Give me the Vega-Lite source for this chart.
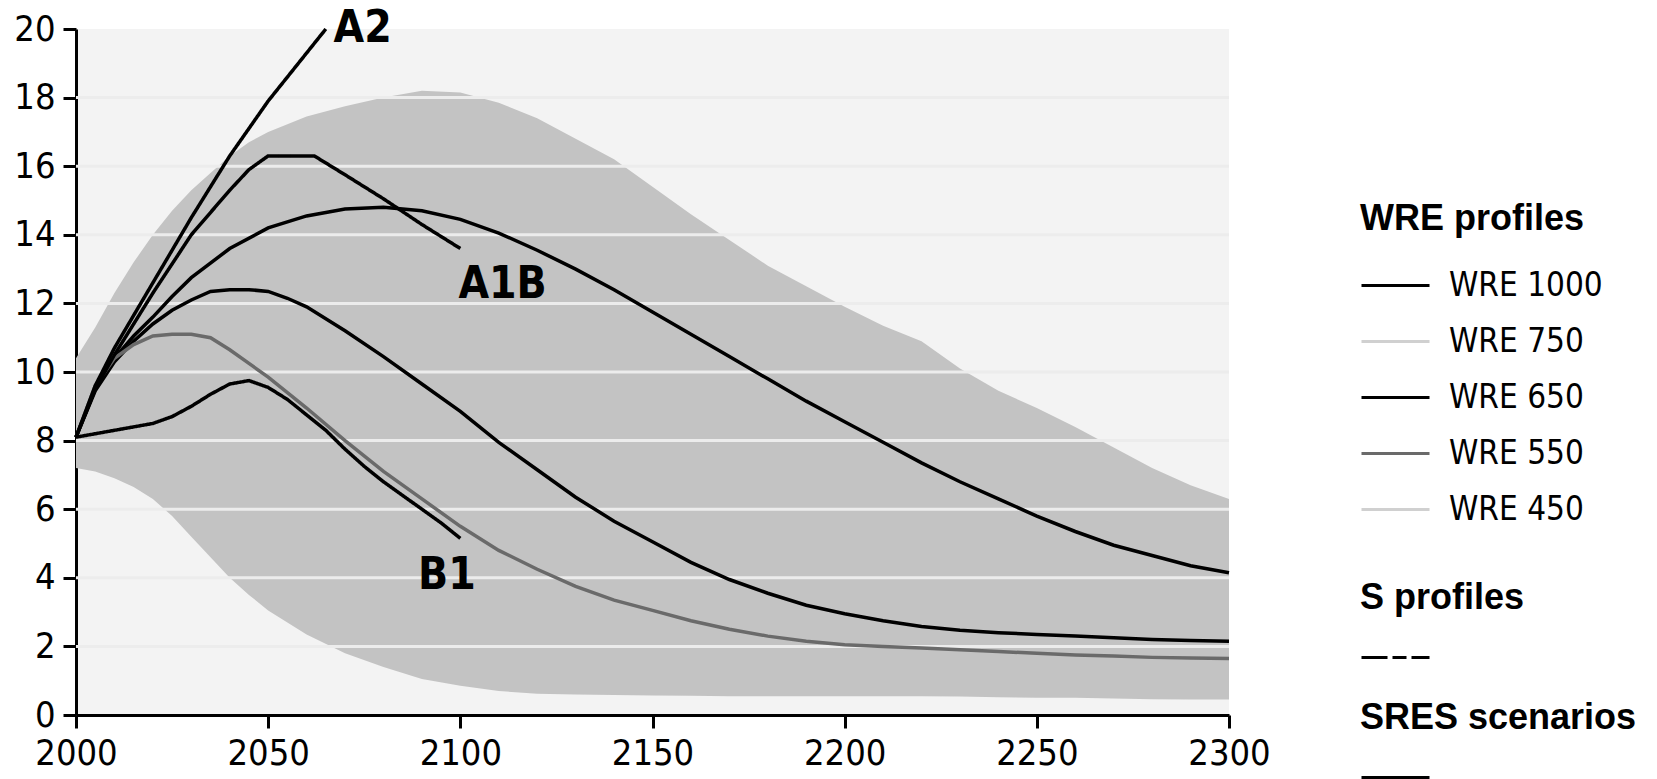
{
  "$schema": "https://vega.github.io/schema/vega-lite/v6.json",
  "width": 1153,
  "height": 686,
  "autosize": {"type": "none"},
  "padding": {"left": 76, "top": 29, "right": 428, "bottom": 64},
  "background": "white",
  "config": {
    "view": {"fill": "#f3f3f3", "stroke": null},
    "font": "DejaVu Sans Condensed, sans-serif",
    "axis": {
      "domainColor": "black", "domainWidth": 3, "tickColor": "black", "tickWidth": 3, "tickSize": 13,
      "labelColor": "black", "labelFontSize": 36, "labelFont": "DejaVu Sans Condensed, sans-serif",
      "grid": false, "labelPadding": 8, "labelFlush": false, "labelOverlap": false
    },
    "legend": {
      "labelFont": "DejaVu Sans Condensed, sans-serif",
      "labelFontSize": 33, "labelColor": "black",
      "titleFont": "Liberation Sans, Arial, sans-serif", "titleFontSize": 36, "titleFontWeight": "bold", "titleColor": "black",
      "titleLimit": 400, "labelLimit": 400, "padding": 0
    }
  },
  "datasets": {
    "band": [
      {"year": 2000, "lo": 7.2, "hi": 10.4}, {"year": 2005, "lo": 7.1, "hi": 11.3}, {"year": 2010, "lo": 6.9, "hi": 12.3},
      {"year": 2015, "lo": 6.65, "hi": 13.2}, {"year": 2020, "lo": 6.3, "hi": 14.0}, {"year": 2025, "lo": 5.8, "hi": 14.7},
      {"year": 2030, "lo": 5.2, "hi": 15.3}, {"year": 2035, "lo": 4.6, "hi": 15.8}, {"year": 2040, "lo": 4.0, "hi": 16.3},
      {"year": 2045, "lo": 3.5, "hi": 16.7}, {"year": 2050, "lo": 3.05, "hi": 17.0}, {"year": 2060, "lo": 2.35, "hi": 17.45},
      {"year": 2070, "lo": 1.8, "hi": 17.75}, {"year": 2080, "lo": 1.4, "hi": 18.0}, {"year": 2090, "lo": 1.05, "hi": 18.2},
      {"year": 2100, "lo": 0.85, "hi": 18.15}, {"year": 2110, "lo": 0.7, "hi": 17.85}, {"year": 2120, "lo": 0.62, "hi": 17.4},
      {"year": 2130, "lo": 0.6, "hi": 16.8}, {"year": 2140, "lo": 0.58, "hi": 16.2}, {"year": 2150, "lo": 0.57, "hi": 15.4},
      {"year": 2160, "lo": 0.56, "hi": 14.6}, {"year": 2170, "lo": 0.55, "hi": 13.85}, {"year": 2180, "lo": 0.55, "hi": 13.1},
      {"year": 2190, "lo": 0.55, "hi": 12.5}, {"year": 2200, "lo": 0.55, "hi": 11.9}, {"year": 2210, "lo": 0.55, "hi": 11.35},
      {"year": 2220, "lo": 0.55, "hi": 10.9}, {"year": 2230, "lo": 0.54, "hi": 10.1}, {"year": 2240, "lo": 0.52, "hi": 9.45},
      {"year": 2250, "lo": 0.5, "hi": 8.95}, {"year": 2260, "lo": 0.5, "hi": 8.4}, {"year": 2270, "lo": 0.48, "hi": 7.8},
      {"year": 2280, "lo": 0.46, "hi": 7.2}, {"year": 2290, "lo": 0.45, "hi": 6.7}, {"year": 2300, "lo": 0.45, "hi": 6.3}
    ],
    "grid": [{"g": 2}, {"g": 4}, {"g": 6}, {"g": 8}, {"g": 10}, {"g": 12}, {"g": 14}, {"g": 16}, {"g": 18}],
    "wre": [
      {"profile": "WRE 1000", "year": 2000, "value": 8.1}, {"profile": "WRE 1000", "year": 2005, "value": 9.5},
      {"profile": "WRE 1000", "year": 2010, "value": 10.4}, {"profile": "WRE 1000", "year": 2015, "value": 11.05},
      {"profile": "WRE 1000", "year": 2020, "value": 11.6}, {"profile": "WRE 1000", "year": 2025, "value": 12.2},
      {"profile": "WRE 1000", "year": 2030, "value": 12.75}, {"profile": "WRE 1000", "year": 2040, "value": 13.6},
      {"profile": "WRE 1000", "year": 2050, "value": 14.2}, {"profile": "WRE 1000", "year": 2060, "value": 14.55},
      {"profile": "WRE 1000", "year": 2070, "value": 14.75}, {"profile": "WRE 1000", "year": 2080, "value": 14.8},
      {"profile": "WRE 1000", "year": 2090, "value": 14.7}, {"profile": "WRE 1000", "year": 2100, "value": 14.45},
      {"profile": "WRE 1000", "year": 2110, "value": 14.05}, {"profile": "WRE 1000", "year": 2120, "value": 13.55},
      {"profile": "WRE 1000", "year": 2130, "value": 13.0}, {"profile": "WRE 1000", "year": 2140, "value": 12.4},
      {"profile": "WRE 1000", "year": 2150, "value": 11.75}, {"profile": "WRE 1000", "year": 2160, "value": 11.1},
      {"profile": "WRE 1000", "year": 2170, "value": 10.45}, {"profile": "WRE 1000", "year": 2180, "value": 9.8},
      {"profile": "WRE 1000", "year": 2190, "value": 9.15}, {"profile": "WRE 1000", "year": 2200, "value": 8.55},
      {"profile": "WRE 1000", "year": 2210, "value": 7.95}, {"profile": "WRE 1000", "year": 2220, "value": 7.35},
      {"profile": "WRE 1000", "year": 2230, "value": 6.8}, {"profile": "WRE 1000", "year": 2240, "value": 6.3},
      {"profile": "WRE 1000", "year": 2250, "value": 5.8}, {"profile": "WRE 1000", "year": 2260, "value": 5.35},
      {"profile": "WRE 1000", "year": 2270, "value": 4.95}, {"profile": "WRE 1000", "year": 2280, "value": 4.65},
      {"profile": "WRE 1000", "year": 2290, "value": 4.35}, {"profile": "WRE 1000", "year": 2300, "value": 4.15},

      {"profile": "WRE 650", "year": 2000, "value": 8.1}, {"profile": "WRE 650", "year": 2005, "value": 9.45},
      {"profile": "WRE 650", "year": 2010, "value": 10.3}, {"profile": "WRE 650", "year": 2015, "value": 10.9},
      {"profile": "WRE 650", "year": 2020, "value": 11.4}, {"profile": "WRE 650", "year": 2025, "value": 11.8},
      {"profile": "WRE 650", "year": 2030, "value": 12.1}, {"profile": "WRE 650", "year": 2035, "value": 12.35},
      {"profile": "WRE 650", "year": 2040, "value": 12.4}, {"profile": "WRE 650", "year": 2045, "value": 12.4},
      {"profile": "WRE 650", "year": 2050, "value": 12.35}, {"profile": "WRE 650", "year": 2055, "value": 12.15},
      {"profile": "WRE 650", "year": 2060, "value": 11.9}, {"profile": "WRE 650", "year": 2070, "value": 11.2},
      {"profile": "WRE 650", "year": 2080, "value": 10.45}, {"profile": "WRE 650", "year": 2090, "value": 9.65},
      {"profile": "WRE 650", "year": 2100, "value": 8.85}, {"profile": "WRE 650", "year": 2110, "value": 7.95},
      {"profile": "WRE 650", "year": 2120, "value": 7.15}, {"profile": "WRE 650", "year": 2130, "value": 6.35},
      {"profile": "WRE 650", "year": 2140, "value": 5.65}, {"profile": "WRE 650", "year": 2150, "value": 5.05},
      {"profile": "WRE 650", "year": 2160, "value": 4.45}, {"profile": "WRE 650", "year": 2170, "value": 3.95},
      {"profile": "WRE 650", "year": 2180, "value": 3.55}, {"profile": "WRE 650", "year": 2190, "value": 3.2},
      {"profile": "WRE 650", "year": 2200, "value": 2.95}, {"profile": "WRE 650", "year": 2210, "value": 2.75},
      {"profile": "WRE 650", "year": 2220, "value": 2.58}, {"profile": "WRE 650", "year": 2230, "value": 2.47},
      {"profile": "WRE 650", "year": 2240, "value": 2.4}, {"profile": "WRE 650", "year": 2250, "value": 2.35},
      {"profile": "WRE 650", "year": 2260, "value": 2.3}, {"profile": "WRE 650", "year": 2270, "value": 2.25},
      {"profile": "WRE 650", "year": 2280, "value": 2.2}, {"profile": "WRE 650", "year": 2290, "value": 2.17},
      {"profile": "WRE 650", "year": 2300, "value": 2.15},

      {"profile": "WRE 550", "year": 2000, "value": 8.1}, {"profile": "WRE 550", "year": 2005, "value": 9.6},
      {"profile": "WRE 550", "year": 2010, "value": 10.4}, {"profile": "WRE 550", "year": 2015, "value": 10.8},
      {"profile": "WRE 550", "year": 2020, "value": 11.05}, {"profile": "WRE 550", "year": 2025, "value": 11.1},
      {"profile": "WRE 550", "year": 2030, "value": 11.1}, {"profile": "WRE 550", "year": 2035, "value": 11.0},
      {"profile": "WRE 550", "year": 2040, "value": 10.65}, {"profile": "WRE 550", "year": 2045, "value": 10.25},
      {"profile": "WRE 550", "year": 2050, "value": 9.85}, {"profile": "WRE 550", "year": 2055, "value": 9.4},
      {"profile": "WRE 550", "year": 2060, "value": 8.95}, {"profile": "WRE 550", "year": 2070, "value": 8.0},
      {"profile": "WRE 550", "year": 2080, "value": 7.1}, {"profile": "WRE 550", "year": 2090, "value": 6.3},
      {"profile": "WRE 550", "year": 2100, "value": 5.5}, {"profile": "WRE 550", "year": 2110, "value": 4.8},
      {"profile": "WRE 550", "year": 2120, "value": 4.25}, {"profile": "WRE 550", "year": 2130, "value": 3.75},
      {"profile": "WRE 550", "year": 2140, "value": 3.35}, {"profile": "WRE 550", "year": 2150, "value": 3.05},
      {"profile": "WRE 550", "year": 2160, "value": 2.75}, {"profile": "WRE 550", "year": 2170, "value": 2.5},
      {"profile": "WRE 550", "year": 2180, "value": 2.3}, {"profile": "WRE 550", "year": 2190, "value": 2.15},
      {"profile": "WRE 550", "year": 2200, "value": 2.05}, {"profile": "WRE 550", "year": 2210, "value": 2.0},
      {"profile": "WRE 550", "year": 2220, "value": 1.95}, {"profile": "WRE 550", "year": 2230, "value": 1.9},
      {"profile": "WRE 550", "year": 2240, "value": 1.85}, {"profile": "WRE 550", "year": 2250, "value": 1.8},
      {"profile": "WRE 550", "year": 2260, "value": 1.75}, {"profile": "WRE 550", "year": 2270, "value": 1.72},
      {"profile": "WRE 550", "year": 2280, "value": 1.68}, {"profile": "WRE 550", "year": 2290, "value": 1.66},
      {"profile": "WRE 550", "year": 2300, "value": 1.65}
    ],
    "sres": [
      {"scenario": "A2", "year": 2000, "value": 8.1}, {"scenario": "A2", "year": 2005, "value": 9.6},
      {"scenario": "A2", "year": 2010, "value": 10.7}, {"scenario": "A2", "year": 2020, "value": 12.6},
      {"scenario": "A2", "year": 2030, "value": 14.5}, {"scenario": "A2", "year": 2040, "value": 16.3},
      {"scenario": "A2", "year": 2050, "value": 17.9}, {"scenario": "A2", "year": 2060, "value": 19.3},
      {"scenario": "A2", "year": 2065, "value": 20.0},

      {"scenario": "A1B", "year": 2000, "value": 8.1}, {"scenario": "A1B", "year": 2005, "value": 9.5},
      {"scenario": "A1B", "year": 2010, "value": 10.5}, {"scenario": "A1B", "year": 2020, "value": 12.3},
      {"scenario": "A1B", "year": 2030, "value": 14.0}, {"scenario": "A1B", "year": 2040, "value": 15.3},
      {"scenario": "A1B", "year": 2045, "value": 15.9}, {"scenario": "A1B", "year": 2050, "value": 16.3},
      {"scenario": "A1B", "year": 2062, "value": 16.3}, {"scenario": "A1B", "year": 2070, "value": 15.75},
      {"scenario": "A1B", "year": 2080, "value": 15.05}, {"scenario": "A1B", "year": 2090, "value": 14.3},
      {"scenario": "A1B", "year": 2100, "value": 13.6},

      {"scenario": "B1", "year": 2000, "value": 8.1}, {"scenario": "B1", "year": 2005, "value": 8.2},
      {"scenario": "B1", "year": 2010, "value": 8.3}, {"scenario": "B1", "year": 2015, "value": 8.4},
      {"scenario": "B1", "year": 2020, "value": 8.5}, {"scenario": "B1", "year": 2025, "value": 8.7},
      {"scenario": "B1", "year": 2030, "value": 9.0}, {"scenario": "B1", "year": 2035, "value": 9.35},
      {"scenario": "B1", "year": 2040, "value": 9.65}, {"scenario": "B1", "year": 2045, "value": 9.75},
      {"scenario": "B1", "year": 2050, "value": 9.55}, {"scenario": "B1", "year": 2055, "value": 9.2},
      {"scenario": "B1", "year": 2060, "value": 8.75}, {"scenario": "B1", "year": 2065, "value": 8.3},
      {"scenario": "B1", "year": 2070, "value": 7.75}, {"scenario": "B1", "year": 2075, "value": 7.25},
      {"scenario": "B1", "year": 2080, "value": 6.8}, {"scenario": "B1", "year": 2085, "value": 6.4},
      {"scenario": "B1", "year": 2090, "value": 6.0}, {"scenario": "B1", "year": 2095, "value": 5.6},
      {"scenario": "B1", "year": 2100, "value": 5.15}
    ],
    "labels": [
      {"year": 2067, "value": 20.0, "label": "A2"},
      {"year": 2099.5, "value": 12.55, "label": "A1B"},
      {"year": 2089, "value": 4.05, "label": "B1"}
    ]
  },
  "layer": [
    {
      "data": {"name": "band"},
      "mark": {"type": "area", "color": "#c3c3c3"},
      "encoding": {
        "x": {"field": "year", "type": "quantitative", "title": null, "scale": {"domain": [2000, 2300], "nice": false, "zero": false},
              "axis": {"values": [2000, 2050, 2100, 2150, 2200, 2250, 2300], "format": "d"}},
        "y": {"field": "hi", "type": "quantitative", "title": null, "scale": {"domain": [0, 20], "nice": false},
              "axis": {"values": [0, 2, 4, 6, 8, 10, 12, 14, 16, 18, 20]}},
        "y2": {"field": "lo"}
      }
    },
    {
      "data": {"name": "grid"},
      "mark": {"type": "rule", "color": "#ececec", "strokeWidth": 3},
      "encoding": {
        "y": {"field": "g", "type": "quantitative", "title": null, "scale": {"domain": [0, 20], "nice": false}}
      }
    },
    {
      "data": {"name": "wre"},
      "mark": {"type": "line", "strokeWidth": 3.5},
      "encoding": {
        "x": {"field": "year", "type": "quantitative", "title": null, "scale": {"domain": [2000, 2300], "nice": false, "zero": false}},
        "y": {"field": "value", "type": "quantitative", "title": null, "scale": {"domain": [0, 20], "nice": false}},
        "color": {
          "field": "profile", "type": "nominal",
          "scale": {"domain": ["WRE 1000", "WRE 750", "WRE 650", "WRE 550", "WRE 450"],
                    "range": ["black", "#d0d0d0", "black", "#6a6a6a", "#d0d0d0"]},
          "legend": {"title": "WRE profiles", "orient": "none", "legendX": 1284, "legendY": 173,
                     "symbolType": "M-1,0H3", "symbolSize": 1156, "symbolStrokeWidth": 3,
                     "labelOffset": 52, "rowPadding": 20, "titlePadding": 29}
        }
      }
    },
    {
      "data": {"values": []},
      "mark": {"type": "line", "color": "black", "strokeWidth": 3},
      "encoding": {
        "x": {"field": "year", "type": "quantitative", "title": null, "scale": {"domain": [2000, 2300], "nice": false, "zero": false}},
        "y": {"field": "value", "type": "quantitative", "title": null, "scale": {"domain": [0, 20], "nice": false}},
        "opacity": {
          "datum": "S", "type": "nominal", "scale": {"domain": ["S"], "range": [1]},
          "legend": {"title": "S profiles", "orient": "none", "legendX": 1284, "legendY": 552,
                     "symbolType": "M-1,0H3", "symbolSize": 1156, "symbolStrokeWidth": 3, "symbolStrokeColor": "black",
                     "symbolDash": [26, 5, 14, 5], "labelExpr": "''", "titlePadding": 22}
        }
      }
    },
    {
      "data": {"name": "sres"},
      "mark": {"type": "line", "color": "black", "strokeWidth": 3.5},
      "encoding": {
        "x": {"field": "year", "type": "quantitative", "title": null, "scale": {"domain": [2000, 2300], "nice": false, "zero": false}},
        "y": {"field": "value", "type": "quantitative", "title": null, "scale": {"domain": [0, 20], "nice": false}},
        "detail": {"field": "scenario"},
        "strokeDash": {
          "datum": "SRES", "type": "nominal", "scale": {"domain": ["SRES"], "range": [[1, 0]]},
          "legend": {"title": "SRES scenarios", "orient": "none", "legendX": 1284, "legendY": 672,
                     "symbolType": "M-1,0H3", "symbolSize": 1156, "symbolStrokeWidth": 3, "symbolStrokeColor": "black",
                     "labelExpr": "''", "titlePadding": 22}
        }
      }
    },
    {
      "data": {"name": "labels"},
      "mark": {"type": "text", "align": "left", "baseline": "middle", "fontWeight": "bold", "fontSize": 44,
               "font": "DejaVu Sans Condensed, sans-serif", "color": "black"},
      "encoding": {
        "x": {"field": "year", "type": "quantitative", "title": null, "scale": {"domain": [2000, 2300], "nice": false, "zero": false}},
        "y": {"field": "value", "type": "quantitative", "title": null, "scale": {"domain": [0, 20], "nice": false}},
        "text": {"field": "label"}
      }
    }
  ]
}
